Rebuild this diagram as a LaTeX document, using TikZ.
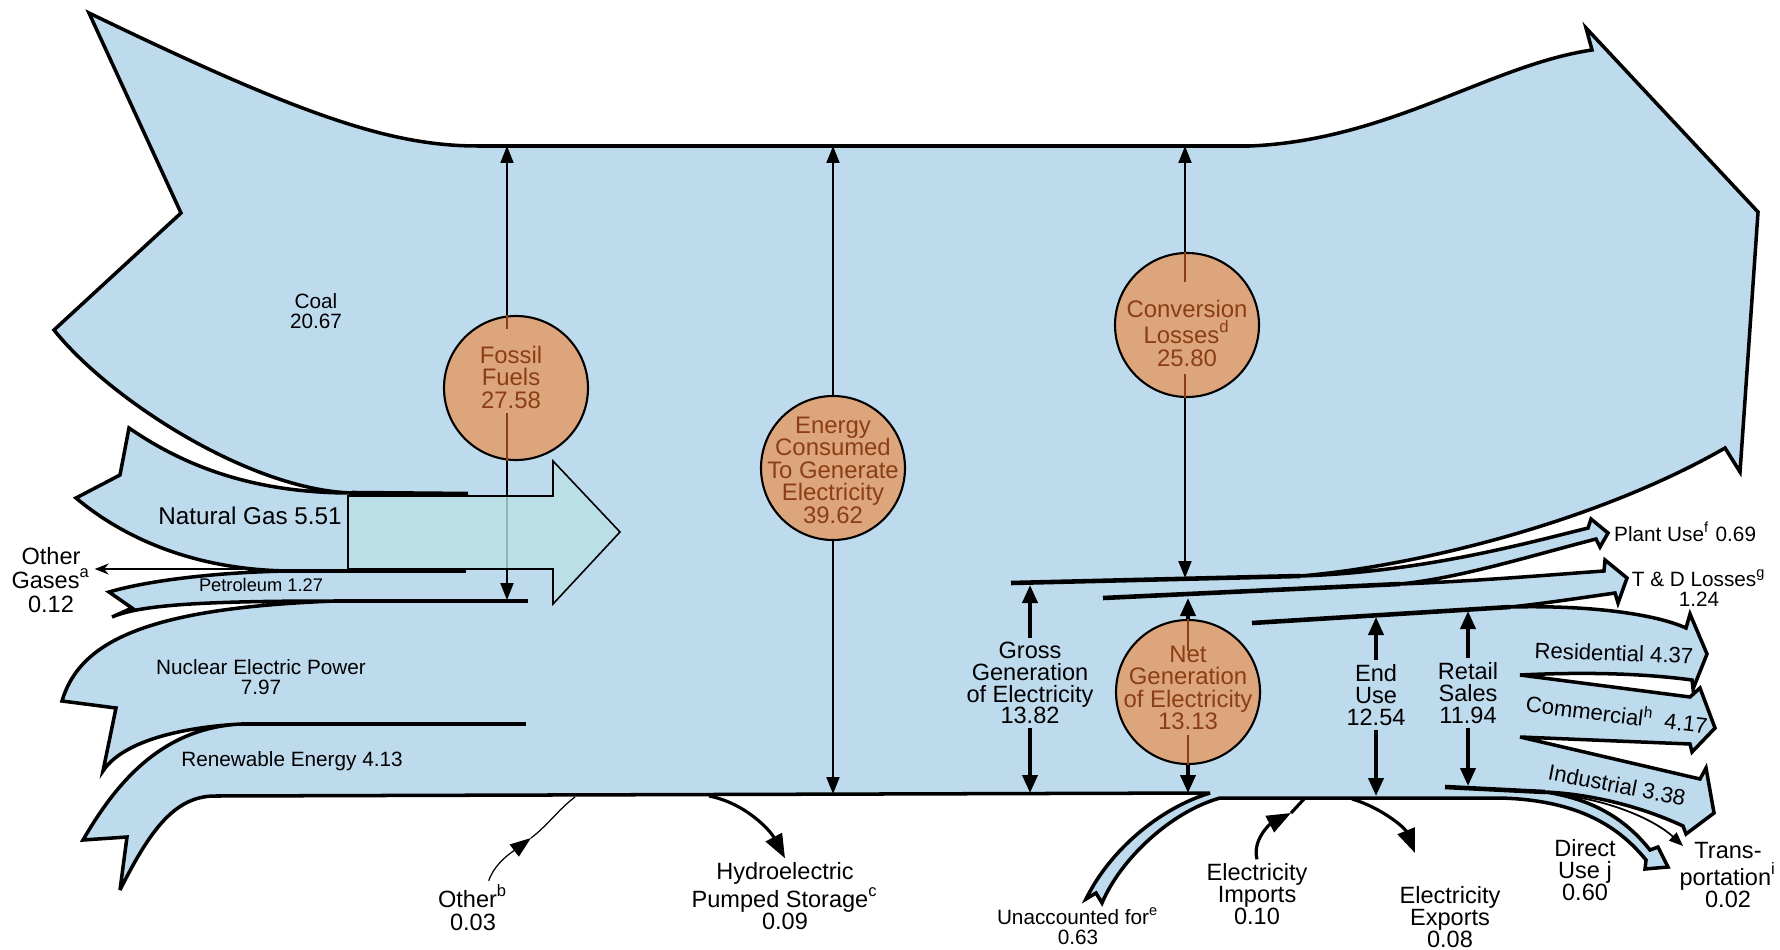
\documentclass[tikz,border=0pt]{standalone}
\usepackage{fontspec}
\setmainfont{Liberation Sans}
\usetikzlibrary{arrows.meta}
\definecolor{flowblue}{RGB}{190,219,238}
\definecolor{ballfill}{RGB}{221,165,124}
\definecolor{ballink}{RGB}{139,62,22}
\definecolor{gasfill}{RGB}{186,225,228}

\begin{document}
\begin{tikzpicture}[x=0.1mm,y=0.1mm,yscale=-1,xscale=1,
  flowedge/.style={line width=1pt, line join=miter, miter limit=6},
  seam/.style={line width=1.3pt},
  ball/.style={circle, draw, line width=0.6pt, fill=ballfill, minimum size=14.4mm, inner sep=0pt},
  ballcore/.style={draw=ballink, line width=0.5pt},
  lbl/.style={align=center, inner sep=1pt, font=\fontsize{6.7}{6.2}\selectfont},
  balllbl/.style={align=center, inner sep=1pt, text=ballink, font=\fontsize{6.8}{6.4}\selectfont},
  smalllbl/.style={align=center, inner sep=1pt, font=\fontsize{5.9}{5.7}\selectfont},
  sinklbl/.style={align=center, inner sep=1pt, font=\fontsize{6.3}{6.3}\selectfont},
  measure/.style={line width=0.55pt, >={Triangle[length=1.7mm,width=1.3mm]}},
  heavymeasure/.style={line width=1.1pt, >={Triangle[length=1.8mm,width=1.5mm]}},
  flowarrow/.style={line width=0.9pt, >={Triangle[length=2.4mm,width=1.8mm]}},
  thinarrow/.style={line width=0.35pt, >={Triangle[length=2.1mm,width=1.5mm]}},
  tinyarrow/.style={line width=0.5pt, >={Triangle[length=1.4mm,width=1.1mm]}}
]
\useasboundingbox (0,0) rectangle (1780,949);

%Shape: flow body, coal tail round to the sinks and back
\draw[flowedge, fill=flowblue]
  (89,13) .. controls (300,115) and (390,146) .. (478,146)
  -- (1250,146) .. controls (1390,140) and (1490,65) .. (1592,50)
  -- (1586,28) -- (1758,212) -- (1740,472) -- (1725,448)
  .. controls (1600,520) and (1420,566) .. (1300,576)
  % plant use
  .. controls (1420,572) and (1520,545) .. (1588,528)
  -- (1591,519) -- (1608,533) -- (1600,547) -- (1596,539)
  .. controls (1530,556) and (1460,578) .. (1400,584)
  % T and D losses
  .. controls (1480,581) and (1560,574) .. (1604,571)
  -- (1605,560) -- (1627,578) -- (1618,603) -- (1615,593)
  .. controls (1580,598) and (1540,604) .. (1510,607)
  % residential
  .. controls (1590,605) and (1655,614) .. (1686,628)
  -- (1690,614) -- (1707,654) -- (1693,689) -- (1692,680)
  .. controls (1640,673) and (1580,672) .. (1520,675)
  % commercial
  -- (1690,697) -- (1700,688) -- (1715,728) -- (1692,752) -- (1690,744)
  -- (1520,737)
  % industrial
  -- (1700,779) -- (1706,768) -- (1714,813) -- (1686,834) -- (1683,826)
  .. controls (1640,806) and (1590,794) .. (1545,792)
  % direct use
  .. controls (1600,800) and (1630,825) .. (1650,850)
  -- (1658,847) -- (1668,867) -- (1645,869) -- (1646,860)
  .. controls (1620,828) and (1580,800) .. (1500,798)
  -- (1220,798)
  % unaccounted for
  .. controls (1170,812) and (1120,860) .. (1102,903)
  -- (1096,893) -- (1086,899)
  .. controls (1110,850) and (1160,808) .. (1210,793)
  -- (215,796)
  % renewable
  .. controls (175,796) and (150,830) .. (120,890)
  -- (127,837) -- (83,840)
  .. controls (115,785) and (160,728) .. (241,724)
  % nuclear
  .. controls (170,728) and (120,745) .. (103,771)
  -- (116,708) -- (62,701)
  .. controls (80,640) and (150,608) .. (335,601)
  % petroleum
  .. controls (200,601) and (140,605) .. (112,617)
  -- (132,608) -- (109,592)
  .. controls (150,580) and (220,572) .. (290,571)
  % natural gas
  .. controls (190,570) and (120,535) .. (76,498)
  -- (120,475) -- (129,428)
  .. controls (190,470) and (260,493) .. (352,493)
  % coal
  .. controls (250,490) and (110,400) .. (54,330)
  -- (181,213) -- cycle;

%Straight Lines: seams between the bands
\draw[seam] (352,493) -- (468,494);
\draw[seam] (290,571) -- (466,571);
\draw[seam] (335,601) -- (528,601);
\draw[seam] (241,724) -- (526,724);
\draw[seam] (1011,583) -- (1300,576);
\draw[seam] (1103,598) -- (1400,584);
\draw[seam] (1252,623) -- (1510,607);
\draw[seam] (1445,787) -- (1545,792);

%Straight Lines: measures behind the balls
\coordinate (ffTop) at (507,146);
\coordinate (ffBot) at (507,600);
\coordinate (ecTop) at (833,146);
\coordinate (ecBot) at (833,794);
\coordinate (clTop) at (1185,146);
\coordinate (clBot) at (1185,578);
\coordinate (ngTop) at (1188,598);
\coordinate (ngBot) at (1188,793);
\draw[measure,<->] (ffTop) -- (ffBot);
\draw[measure,<->] (ecTop) -- (ecBot);
\draw[measure,<->] (clTop) -- (clBot);
\draw[heavymeasure,<->] (ngTop) -- (ngBot);

%Shape: natural gas block arrow
\draw[line width=0.45pt, fill=gasfill, fill opacity=0.8] (348,496) -- (553,496) -- (553,461) -- (620,532) -- (553,604) -- (553,569) -- (348,569) -- cycle;

%Shape: balls
\node[ball] (fossil) at (516,388) {};
\draw[ballcore] (fossil.north -| ffTop) -- ++(0,14);
\draw[ballcore] (fossil.south -| ffTop) -- ++(0,-48);
\node[balllbl] (fossilText) at (511,377) {Fossil\\Fuels\\27.58};

\node[ball] (energy) at (833,468) {};
\node[balllbl] (energyText) at (833,470) {Energy\\Consumed\\To Generate\\Electricity\\39.62};

\node[ball] (conv) at (1187,325) {};
\draw[ballcore] (conv.north -| clTop) -- ++(0,30);
\draw[ballcore] (conv.south -| clTop) -- ++(0,-24);
\node[balllbl] (convText) at (1187,333) {Conversion\\Losses\textsuperscript{d}\\25.80};

\node[ball] (netgen) at (1188,692) {};
\draw[ballcore] (netgen.north) -- ++(0,32);
\draw[ballcore] (netgen.south) -- ++(0,-30);
\node[balllbl] (netText) at (1188,688) {Net\\Generation\\of Electricity\\13.13};

% Text Node
\node[smalllbl] (coal) at (316,311) {Coal\\20.67};
\node[lbl, font=\fontsize{6.9}{6.2}\selectfont] (natgas) at (250,516) {Natural Gas 5.51};
\node[lbl, font=\fontsize{6.7}{6.8}\selectfont] (othergas) at (51,580) {Other\\Gases\textsuperscript{a}\\0.12};
\node[smalllbl, font=\fontsize{5.2}{5}\selectfont] (petrol) at (261,585) {Petroleum 1.27};
\node[smalllbl] (nuclear) at (261,677) {Nuclear Electric Power\\7.97};
\node[smalllbl] (renew) at (292,761) {Renewable Energy 4.13};
\node[lbl, font=\fontsize{6.7}{6.6}\selectfont] (other) at (473,908) {Other\textsuperscript{b}\\0.03};
\node[lbl] (hydro) at (785,896) {Hydroelectric\\Pumped Storage\textsuperscript{c}\\0.09};
\node[lbl] (gross) at (1030,683) {Gross\\Generation\\of Electricity\\13.82};
\node[lbl] (enduse) at (1376,695) {End\\Use\\12.54};
\node[lbl] (retail) at (1468,693) {Retail\\Sales\\11.94};
\node[smalllbl, anchor=west] (plant) at (1610,532) {Plant Use\textsuperscript{f} 0.69};
\node[smalllbl] (tdloss) at (1699,588) {T \& D Losses\textsuperscript{g}\\1.24};
\node[sinklbl, rotate=-2] (resid) at (1614,653) {Residential 4.37};
\node[sinklbl, rotate=-7] (comm) at (1617,713) {Commercial\textsuperscript{h}\enspace 4.17};
\node[sinklbl, rotate=-11] (indus) at (1617,785) {Industrial 3.38};
\node[lbl] (direct) at (1585,870) {Direct\\Use j\\0.60};
\node[lbl] (transp) at (1728,875) {Trans-\\portation\textsuperscript{i}\\0.02};
\node[smalllbl] (unacc) at (1078,926) {Unaccounted for\textsuperscript{e}\\0.63};
\node[lbl] (imports) at (1257,894) {Electricity\\Imports\\0.10};
\node[lbl] (exports) at (1450,917) {Electricity\\Exports\\0.08};

%Straight Lines: measures through the labels
\coordinate (ggTop) at (1030,585);
\coordinate (ggBot) at (1030,793);
\coordinate (euTop) at (1376,617);
\coordinate (euBot) at (1376,796);
\coordinate (rsTop) at (1468,611);
\coordinate (rsBot) at (1468,786);
\draw[heavymeasure,->] (gross) -- (ggTop);
\draw[heavymeasure,->] (gross) -- (ggBot);
\draw[heavymeasure,->] (enduse) -- (euTop);
\draw[heavymeasure,->] (enduse) -- (euBot);
\draw[heavymeasure,->] (retail) -- (rsTop);
\draw[heavymeasure,->] (retail) -- (rsBot);

%Curve Lines: small flows in and out
\coordinate (ogStart) at (243,569);
\draw[line width=0.35pt, -{Stealth[length=1.4mm,width=1.1mm]}] (ogStart) -- (ogStart -| othergas.east);

\coordinate (otherHead) at (531,838);
\coordinate (otherEnd) at (575,797);
\draw[thinarrow,->] (other.60) .. controls (495,862) and (515,850) .. (otherHead);
\draw[thinarrow] (otherHead) .. controls (547,826) and (560,808) .. (otherEnd);

\coordinate (hydroStart) at (709,796);
\draw[flowarrow,->] (hydroStart) .. controls (745,803) and (770,830) .. (hydro.north);

\coordinate (impHead) at (1291,813);
\coordinate (impEnd) at (1304,799);
\draw[flowarrow,->] (imports.north) .. controls (1252,840) and (1270,824) .. (impHead);
\draw[flowarrow] (impHead) -- (impEnd);

\coordinate (expStart) at (1352,799);
\coordinate (expTip) at (1415,853);
\draw[flowarrow,->] (expStart) .. controls (1382,808) and (1405,828) .. (expTip);

\coordinate (trStart) at (1560,795);
\coordinate (trTip) at (1683,846);
\draw[tinyarrow,->] (trStart) .. controls (1610,800) and (1655,820) .. (trTip);
\end{tikzpicture}
\end{document}
